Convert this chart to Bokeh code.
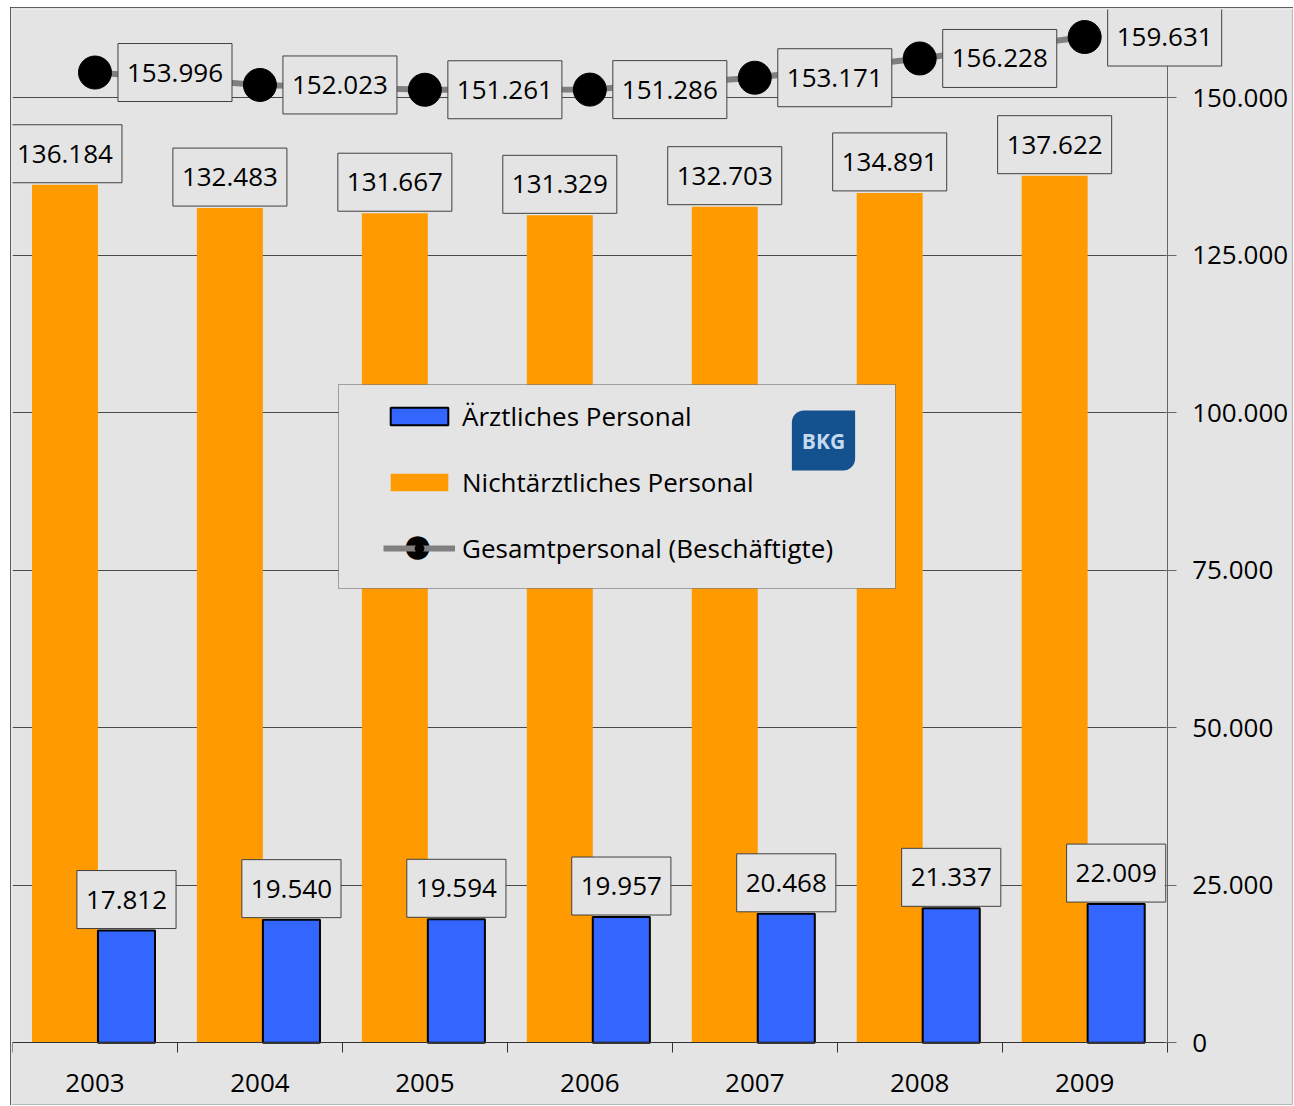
from bokeh.plotting import figure
from bokeh.models import (Range1d, FixedTicker, Label, Legend, LegendItem,
                          ColumnDataSource, BoxAnnotation, LinearAxis, Grid)
from bokeh.embed import file_html
from bokeh.resources import INLINE
from bokeh.core.properties import value

# ---------------- data ----------------
years = ["2003", "2004", "2005", "2006", "2007", "2008", "2009"]
aerztlich = [17812, 19540, 19594, 19957, 20468, 21337, 22009]
nichtaerztlich = [136184, 132483, 131667, 131329, 132703, 134891, 137622]
gesamt = [153996, 152023, 151261, 151286, 153171, 156228, 159631]
y_ticks = [0, 25000, 50000, 75000, 100000, 125000, 150000]
y_tick_labels = ["0", "25.000", "50.000", "75.000", "100.000", "125.000", "150.000"]
series_names = ["Ärztliches Personal", "Nichtärztliches Personal",
                "Gesamtpersonal (Beschäftigte)"]
logo_text = "BKG"


def fmt(v):
    return f"{v:,}".replace(",", ".")


FONT = "Open Sans"
BG = "#e4e4e4"
ORANGE = "#ff9a00"
BLUE = "#3366ff"
GRAY = "#808080"
BOXLINE = "#404040"

n = len(years)
Y_TOP = 164000
xc = [i + 0.5 for i in range(n)]
ORANGE_SHIFT, ORANGE_W = -0.182, 0.40
BLUE_SHIFT, BLUE_W = 0.191, 0.346

src = ColumnDataSource(dict(
    xc=xc,
    xo=[x + ORANGE_SHIFT for x in xc],
    xb=[x + BLUE_SHIFT for x in xc],
    aerzt=aerztlich, nicht=nichtaerztlich, gesamt=gesamt,
    aerzt_lbl=[fmt(v) for v in aerztlich],
    nicht_lbl=[fmt(v) for v in nichtaerztlich],
))

# the frame extends past both axes so that labels outside the categories are not clipped
p = figure(width=1283, height=1098, x_range=Range1d(0, n + 0.76), y_range=Range1d(-9800, Y_TOP),
           x_axis_location=None, y_axis_location=None,
           output_backend="svg", toolbar_location=None,
           min_border_left=2, min_border_top=2, min_border_right=1, min_border_bottom=1,
           background_fill_color=BG, border_fill_color=BG, outline_line_color=None)
p.styles = {"outline": "1px solid #333333", "outline-offset": "-1px",
            "margin-left": "10px", "margin-top": "7px"}

# value axis, drawn at the right end of the categories
yticker = FixedTicker(ticks=y_ticks)
yaxis = LinearAxis(ticker=yticker, fixed_location=n, bounds=(0, Y_TOP),
                   major_label_overrides={t: l for t, l in zip(y_ticks, y_tick_labels)},
                   major_tick_out=9, major_tick_in=3, minor_tick_out=0, minor_tick_in=0,
                   axis_line_color="#666666", major_tick_line_color="#666666",
                   major_label_standoff=16, major_label_text_font=FONT,
                   major_label_text_font_size="26px", major_label_text_color="black")
p.add_layout(yaxis, "right")

# category axis, drawn at value 0, ticks between categories
xaxis = LinearAxis(ticker=FixedTicker(ticks=xc, minor_ticks=list(range(n + 1))),
                   fixed_location=0, bounds=(0, n),
                   major_label_overrides={x: y for x, y in zip(xc, years)},
                   major_tick_out=0, major_tick_in=0, minor_tick_out=10, minor_tick_in=0,
                   axis_line_color="#333333", minor_tick_line_color="#333333",
                   major_label_standoff=21, major_label_text_font=FONT,
                   major_label_text_font_size="26px", major_label_text_color="black")
p.add_layout(xaxis, "below")

for g in p.ygrid:
    g.visible = False
for g in p.xgrid:
    g.visible = False
p.add_layout(Grid(dimension=1, ticker=yticker, cross_bounds=(0, n),
                  grid_line_color="#4a4a4a", grid_line_width=1))

# marks
orange = p.vbar(x="xo", top="nicht", width=ORANGE_W, source=src,
                fill_color=ORANGE, line_color=None)
blue = p.vbar(x="xb", top="aerzt", width=BLUE_W, source=src,
              fill_color=BLUE, line_color="black", line_width=2)
line = p.line(x="xc", y="gesamt", source=src, line_color=GRAY, line_width=6)
dots = p.scatter(x="xc", y="gesamt", source=src, size=33,
                 fill_color="black", line_color="black")

pad = dict(left=9, right=9, top=20, bottom=20)
common = dict(source=src, text_font=value(FONT), text_font_size="26px",
              text_color="black", background_fill_color=BG,
              border_line_color=BOXLINE, border_line_width=1, padding=pad)
p.text(x="xo", y="nicht", text="nicht_lbl", anchor="bottom_center", y_offset=-2, **common)
p.text(x="xb", y="aerzt", text="aerzt_lbl", anchor="bottom_center", y_offset=-2, **common)

for x, v in zip(xc, gesamt):
    p.add_layout(Label(x=x, y=v, text=fmt(v), x_offset=23,
                       text_align="left", text_baseline="middle",
                       text_font=FONT, text_font_size="26px", text_color="black",
                       background_fill_color=BG, border_line_color=BOXLINE,
                       border_line_width=1, padding=pad))

# legend box (screen units, relative to the frame's bottom-left corner)
box = BoxAnnotation(left=326, right=883, bottom=516, top=720,
                    left_units="screen", right_units="screen",
                    top_units="screen", bottom_units="screen",
                    fill_color=BG, fill_alpha=1.0, line_color="black", line_width=1)
p.add_layout(box)

legend = Legend(items=[
    LegendItem(label=series_names[0], renderers=[blue]),
    LegendItem(label=series_names[1], renderers=[orange]),
    LegendItem(label=series_names[2], renderers=[line, dots]),
], location=(371, 538), padding=0, margin=0, spacing=30,
    glyph_width=72, glyph_height=22, label_standoff=7, label_height=35,
    label_text_font=FONT, label_text_font_size="26px", label_text_color="black",
    background_fill_alpha=0, border_line_color=None)
p.add_layout(legend, "center")

dot = Label(x=405, y=560, x_units="screen", y_units="screen", text="●",
            text_font="DejaVu Sans", text_font_size="31px", text_color="black",
            text_align="center", text_baseline="middle")
p.add_layout(dot)

logo = Label(x=811, y=664, x_units="screen", y_units="screen", text=logo_text,
             text_font=FONT, text_font_size="21px", text_font_style="bold",
             text_color="#c6daef", text_align="center", text_baseline="middle",
             background_fill_color="#13518f",
             padding=dict(left=10, right=10, top=16, bottom=16),
             border_radius=dict(top_left=12, bottom_right=12))
p.add_layout(logo)

open("out.html", "w").write(file_html(p, INLINE))
